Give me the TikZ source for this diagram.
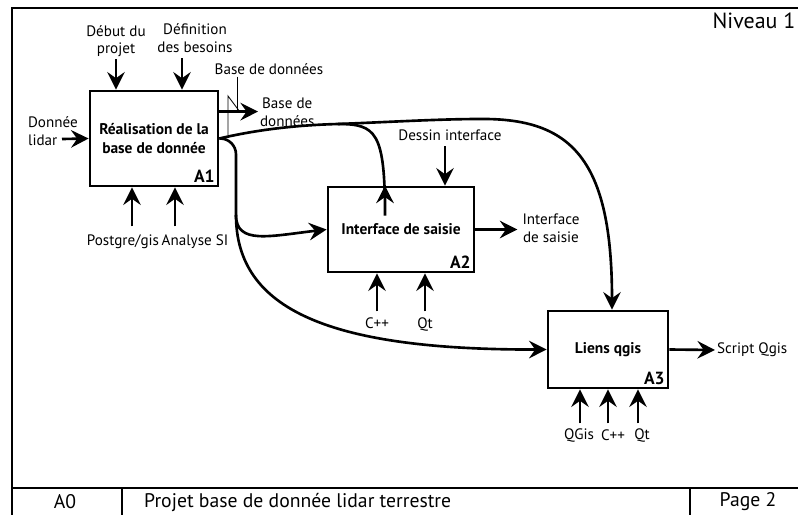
\documentclass[tikz,border=0pt]{standalone}
\usepackage{fontspec}
\setmainfont{PT Sans}
\usetikzlibrary{arrows.meta,calc}

\begin{document}
\begin{tikzpicture}[x=0.02cm, y=-0.02cm,
  box/.style={draw, line width=1.6pt, fill=white, align=center, inner sep=1pt,
    font=\bfseries\fontsize{8.8}{11}\selectfont},
  num/.style={anchor=south east, inner sep=2.5pt, font=\bfseries\fontsize{10}{10}\selectfont},
  lab/.style={align=center, inner sep=1pt, font=\fontsize{8.6}{10}\selectfont},
  big/.style={font=\fontsize{11.2}{12}\selectfont},
  flow/.style={line width=1.5pt, -{Stealth[length=10pt,width=10pt,inset=3.5pt]}},
  wire/.style={line width=1.5pt},
  thin line/.style={line width=0.5pt}]
  \useasboundingbox (0,0) rectangle (798,514);
  \clip (0,0) rectangle (798,514);

  % cadre
  \draw[line width=1.6pt] (12,530) -- (12,8) -- (810,8);
  \draw[wire] (12,488) -- (810,488);
  \draw[wire] (122,488) -- (122,530);
  \draw[wire] (690,488) -- (690,530);
  \node[font=\fontsize{12.5}{14}\selectfont] (niveau) at (754,21) {Niveau 1};
  \node[big] (a0) at (65,502) {A0};
  \node[big, anchor=west] (titre) at (138,502) {Projet base de donnée lidar terrestre};
  \node[big] (page) at (748,502) {Page 2};

  % activites
  \node[box, minimum width=2.56cm, minimum height=1.9cm] (a1) at (154,138.5) {Réalisation de la\\base de donnée};
  \node[num] at (a1.south east) {A1};
  \node[box, minimum width=2.92cm, minimum height=1.7cm] (a2) at (401,229.5) {Interface de saisie};
  \node[num] at (a2.south east) {A2};
  \node[box, minimum width=2.4cm, minimum height=1.54cm] (a3) at (608,349.5) {Liens qgis};
  \node[num] at (a3.south east) {A3};

  % A1
  \node[lab, align=left, anchor=west] (lidar) at (26,131) {Donnée\\lidar};
  \coordinate (lidarin) at (62,139);
  \draw[flow] (lidarin) -- (a1.west);
  \node[lab] (debut) at (116,41) {Début du\\projet};
  \draw[flow] (debut.south) -- (debut.south |- a1.north);
  \node[lab] (besoins) at (195,38) {Définition\\des besoins};
  \coordinate (inbes) at (182,58);
  \draw[flow] (inbes) -- (inbes |- a1.north);
  \node[lab] (postgre) at (123,242) {Postgre/gis};
  \node[lab] (analyse) at (195,242) {Analyse SI};
  \coordinate (inpg) at ($(a1.south)+(-22,39)$);
  \coordinate (inas) at ($(a1.south)+(21,39)$);
  \draw[flow] (inpg) -- (inpg |- a1.south);
  \draw[flow] (inas) -- (inas |- a1.south);
  \node[lab] (bdd1) at (269,69) {Base de données};
  \node[lab, anchor=west] (bdd2) at (258,112) {Base de\\données};
  \coordinate (out1) at ($(a1.north east)+(0,22)$);
  \draw[flow] (out1) -- (out1 -| bdd2.west);
  \coordinate (tick) at (237,112);
  \draw[thin line] (tick |- bdd1.south) -- (tick);
  \draw[thin line] (228,135) -- (228,96) -- (240,112);

  % liaisons
  \coordinate (split1) at (338,124);
  \coordinate (split2) at (236,215);
  \coordinate (crest) at (480,119);
  \draw[flow] (a1.east) .. controls (260,129) and (300,125) .. (split1)
    .. controls (390,122) and (440,119) .. (crest)
    .. controls (572,118) and (612,160) .. ($(a3.north)+(4,0)$);
  \draw[flow] (split1) .. controls (376,124) and (385,132) .. ($(a2.north)+(-16,30)$) -- ($(a2.north)+(-16,0)$);
  \draw[wire, rounded corners=9pt] (a1.east) -| (split2);
  \draw[flow] (split2) .. controls (236,245) and (270,236) .. (a2.west);
  \draw[flow] (split2) .. controls (236,310) and (330,350) .. (a3.west);

  % A2
  \node[lab] (dessin) at (450,135) {Dessin interface};
  \coordinate (indessin) at (445,146);
  \draw[flow] (indessin) -- (indessin |- a2.north);
  \node[lab] (cpp2) at (377,323) {C++};
  \node[lab] (qt2) at (425,324) {Qt};
  \coordinate (incpp2) at ($(a2.south)+(-24,38)$);
  \coordinate (inqt2) at ($(a2.south)+(24,38)$);
  \draw[flow] (incpp2) -- (incpp2 |- a2.south);
  \draw[flow] (inqt2) -- (inqt2 |- a2.south);
  \node[lab] (isaisie) at (551,228) {Interface\\de saisie};
  \coordinate (out2) at ($(a2.east)+(42,0)$);
  \draw[flow] (a2.east) -- (out2);

  % A3
  \node[lab] (qgis) at (579,435) {QGis};
  \node[lab] (cpp3) at (613,435) {C++};
  \node[lab] (qt3) at (642,435) {Qt};
  \foreach \dx [count=\i] in {-28,0,30} {
    \coordinate (in3\i) at ($(a3.south)+(\dx,34)$);
    \draw[flow] (in3\i) -- (in3\i |- a3.south);
  }
  \node[lab, anchor=west] (script) at (715,350) {Script Qgis};
  \draw[flow] (a3.east) -- (script.west);
\end{tikzpicture}
\end{document}
